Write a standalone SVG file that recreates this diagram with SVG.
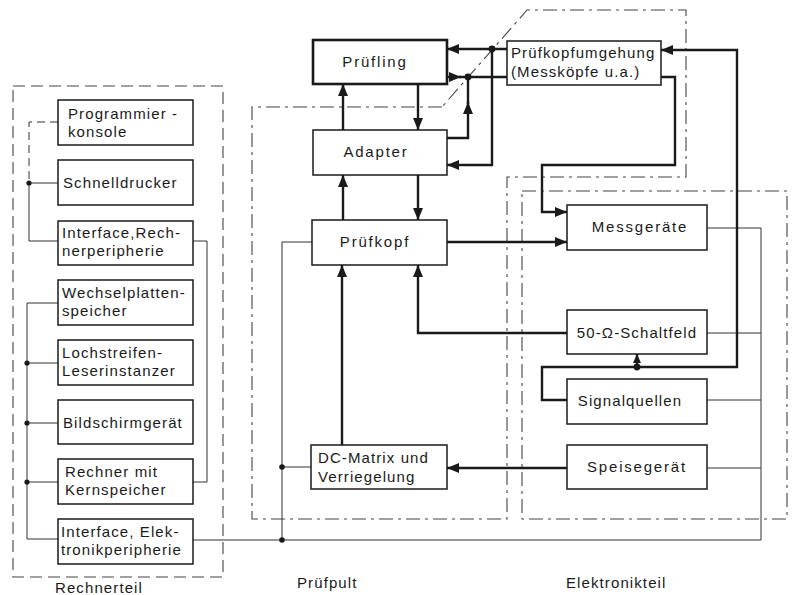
<svg xmlns="http://www.w3.org/2000/svg" width="795" height="595" viewBox="0 0 795 595">
<style>
.bx{fill:#fff;stroke:#1a1a1a;stroke-width:1.5}
.bxk{fill:#fff;stroke:#1a1a1a;stroke-width:2.6}
.t{font-family:"Liberation Sans",Arial,sans-serif;font-size:15px;letter-spacing:1.1px;fill:#1a1a1a}
.tc{text-anchor:middle}
.w{letter-spacing:1.8px}
.th{fill:none;stroke:#1a1a1a;stroke-width:2.4}
.tn{fill:none;stroke:#333;stroke-width:1}
.da{fill:none;stroke:#444;stroke-width:1.1;stroke-dasharray:12 6}
.dd{fill:none;stroke:#444;stroke-width:1.1;stroke-dasharray:14 5 3 5}
.dot{fill:#1a1a1a}
</style>
<defs>
<marker id="ar" markerUnits="userSpaceOnUse" markerWidth="12" markerHeight="10" refX="12" refY="5" orient="auto">
<path d="M0,0 L12,5 L0,10 z" fill="#1a1a1a"/>
</marker>
<marker id="ars" markerUnits="userSpaceOnUse" markerWidth="9" markerHeight="8" refX="9" refY="4" orient="auto">
<path d="M0,0 L9,4 L0,8 z" fill="#1a1a1a"/>
</marker>
</defs>

<g id="regions">
<rect class="da" x="13" y="86" width="210" height="491"/>
<path class="dd" d="M442 107 L252 107 L252 519 L507 519 L507 177 L686 177 L686 10 L527 10 Z"/>
<rect class="dd" x="522" y="191" width="265" height="328"/>
<text class="t" x="55" y="593">Rechnerteil</text>
<text class="t" x="297" y="588">Prüfpult</text>
<text class="t" x="566" y="588">Elektronikteil</text>
</g>

<g id="connectors">
<path class="tn" d="M58 122 L29 122 L29 183" stroke-dasharray="8 5"/>
<path class="tn" d="M29 183 L29 241 L58 241"/>
<path class="tn" d="M29 183 L58 183"/>
<path class="tn" d="M193 241 L207 241 L207 482 L193 482"/>
<path class="tn" d="M58 303 L27 303 L27 539 L58 539"/>
<path class="tn" d="M27 363 L58 363 M27 423 L58 423 M27 482 L58 482"/>
<circle class="dot" cx="29" cy="183" r="2.6"/>
<circle class="dot" cx="27" cy="363" r="2.6"/>
<circle class="dot" cx="27" cy="423" r="2.6"/>
<circle class="dot" cx="27" cy="482" r="2.6"/>
<path class="tn" d="M193 540 L761 540 L761 228 L707 228"/>
<path class="tn" d="M707 333 L761 333 M707 400 L761 400 M707 468 L761 468"/>
<path class="tn" d="M312 242 L282 242 L282 540"/>
<path class="tn" d="M282 467 L311 467"/>
<circle class="dot" cx="282" cy="467" r="2.8"/>
<circle class="dot" cx="282" cy="540" r="2.8"/>
<path class="th" d="M343 130 L343 84" marker-end="url(#ar)"/>
<path class="th" d="M418 84 L418 130" marker-end="url(#ar)"/>
<path class="th" d="M343 220 L343 175" marker-end="url(#ar)"/>
<path class="th" d="M418 175 L418 220" marker-end="url(#ar)"/>
<path class="th" d="M342 445 L342 265" marker-end="url(#ar)"/>
<path class="th" d="M567 333 L418 333 L418 265" marker-end="url(#ar)"/>
<path class="th" d="M447 242 L567 242" marker-end="url(#ar)"/>
<path class="th" d="M567 468 L447 468" marker-end="url(#ar)"/>
<path class="th" d="M507 49 L447 49" marker-end="url(#ar)"/>
<path class="th" d="M492 49 L492 165 L447 165" marker-end="url(#ar)"/>
<path class="th" d="M447 77 L461 77" marker-end="url(#ar)"/>
<path class="th" d="M459 77 L507 77"/>
<path class="th" d="M447 138 L468 138 L468 102" marker-end="url(#ar)"/>
<path class="th" d="M468 104 L468 77"/>
<circle class="dot" cx="492" cy="49" r="3.4"/>
<circle class="dot" cx="468" cy="77" r="3.4"/>
<path class="th" d="M661 77 L675 77 L675 165 L542 165 L542 212 L567 212" marker-end="url(#ar)"/>
<path class="th" d="M567 400 L542 400 L542 367 L737 367 L737 50 L661 50" marker-end="url(#ar)"/>
<path class="th" d="M637 367 L637 354" marker-end="url(#ars)"/>
<circle class="dot" cx="637" cy="367" r="3.4"/>
</g>

<g id="programmierkonsole"><rect class="bx" x="58" y="100" width="135" height="45"/><text class="t" x="68" y="119">Programmier -</text><text class="t" x="68" y="137">konsole</text></g>
<g id="schnelldrucker"><rect class="bx" x="58" y="160" width="135" height="45"/><text class="t" x="63" y="188">Schnelldrucker</text></g>
<g id="interface-rechner"><rect class="bx" x="58" y="221" width="135" height="44"/><text class="t" x="62" y="238">Interface,Rech-</text><text class="t" x="62" y="256">nerperipherie</text></g>
<g id="wechselplatten"><rect class="bx" x="58" y="280" width="135" height="45"/><text class="t" x="62" y="298">Wechselplatten-</text><text class="t" x="62" y="316">speicher</text></g>
<g id="lochstreifen"><rect class="bx" x="58" y="340" width="135" height="45"/><text class="t" x="62" y="358">Lochstreifen-</text><text class="t" x="62" y="376">Leserinstanzer</text></g>
<g id="bildschirm"><rect class="bx" x="58" y="400" width="135" height="44"/><text class="t" x="63" y="428">Bildschirmgerät</text></g>
<g id="rechner"><rect class="bx" x="58" y="459" width="135" height="45"/><text class="t" x="65" y="477">Rechner mit</text><text class="t" x="65" y="495">Kernspeicher</text></g>
<g id="interface-elektronik"><rect class="bx" x="58" y="519" width="135" height="45"/><text class="t" x="61" y="537">Interface, Elek-</text><text class="t" x="61" y="555">tronikperipherie</text></g>

<g id="pruefling"><rect class="bxk" x="313" y="40" width="134" height="44"/><text class="t tc w" x="375" y="67">Prüfling</text></g>
<g id="adapter"><rect class="bx" x="313" y="130" width="134" height="45"/><text class="t tc w" x="376" y="157">Adapter</text></g>
<g id="pruefkopf"><rect class="bx" x="312" y="220" width="135" height="45"/><text class="t tc w" x="375" y="247">Prüfkopf</text></g>
<g id="dc-matrix"><rect class="bx" x="311" y="445" width="136" height="44"/><text class="t" x="318" y="463">DC-Matrix und</text><text class="t" x="318" y="482">Verriegelung</text></g>
<g id="pruefkopfumgehung"><rect class="bx" x="507" y="41" width="154" height="44"/><text class="t" x="511" y="58">Prüfkopfumgehung</text><text class="t" x="511" y="77">(Messköpfe u.a.)</text></g>
<g id="messgeraete"><rect class="bx" x="567" y="205" width="140" height="45"/><text class="t tc w" x="640" y="232">Messgeräte</text></g>
<g id="schaltfeld"><rect class="bx" x="567" y="310" width="140" height="44"/><text class="t tc" x="637" y="338">50-Ω-Schaltfeld</text></g>
<g id="signalquellen"><rect class="bx" x="567" y="379" width="140" height="45"/><text class="t tc" x="630" y="406">Signalquellen</text></g>
<g id="speisegeraet"><rect class="bx" x="567" y="445" width="140" height="44"/><text class="t tc w" x="637" y="472">Speisegerät</text></g>
</svg>
